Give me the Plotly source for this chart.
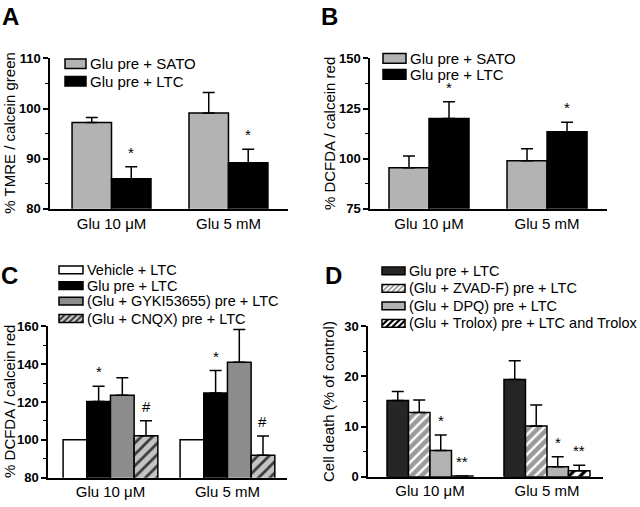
import plotly.graph_objects as go

W, H = 640, 507
FONT = "Liberation Sans, Arial, Helvetica, sans-serif"

# ---------------- data ----------------
categories = ["Glu 10 μM", "Glu 5 mM"]

# Panel A: % TMRE / calcein green
a_names = ["Glu pre + SATO", "Glu pre + LTC"]
a_sato = [97.2, 99.1]
a_sato_err = [1.0, 4.1]
a_ltc = [86.0, 89.2]
a_ltc_err = [2.4, 2.7]
a_sato_sig = ["", ""]
a_ltc_sig = ["*", "*"]
a_yticks = [80, 90, 100, 110]

# Panel B: % DCFDA / calcein red
b_names = ["Glu pre + SATO", "Glu pre + LTC"]
b_sato = [95.5, 99.0]
b_sato_err = [5.8, 6.0]
b_ltc = [120.0, 113.5]
b_ltc_err = [8.4, 4.7]
b_sato_sig = ["", ""]
b_ltc_sig = ["*", "*"]
b_yticks = [75, 100, 125, 150]

# Panel C: % DCFDA / calcein red
c_names = ["Vehicle + LTC", "Glu pre + LTC", "(Glu + GYKI53655) pre + LTC", "(Glu + CNQX) pre + LTC"]
c_vehicle = [100.0, 100.0]
c_vehicle_err = [0.0, 0.0]
c_glu = [120.3, 124.7]
c_glu_err = [8.0, 11.9]
c_gyki = [123.6, 141.0]
c_gyki_err = [9.2, 17.3]
c_cnqx = [102.2, 91.8]
c_cnqx_err = [7.9, 10.2]
c_vehicle_sig = ["", ""]
c_glu_sig = ["*", "*"]
c_gyki_sig = ["", ""]
c_cnqx_sig = ["#", "#"]
c_yticks = [80, 100, 120, 140, 160]

# Panel D: Cell death (% of control)
d_names = ["Glu pre + LTC", "(Glu + ZVAD-F) pre + LTC", "(Glu + DPQ) pre + LTC",
           "(Glu + Trolox) pre + LTC and Trolox"]
d_glu = [15.2, 19.4]
d_glu_err = [1.8, 3.7]
d_zvad = [12.8, 10.1]
d_zvad_err = [2.5, 4.2]
d_dpq = [5.2, 2.0]
d_dpq_err = [3.1, 2.0]
d_trolox = [0.15, 1.2]
d_trolox_err = [0.0, 1.1]
d_glu_sig = ["", ""]
d_zvad_sig = ["", ""]
d_dpq_sig = ["*", "*"]
d_trolox_sig = ["**", "**"]
d_yticks = [0, 10, 20, 30]

# ---------------- styles ----------------
styles = {
    "lightgray": dict(color="#b3b3b3", pattern=None),
    "black": dict(color="#000000", pattern=None),
    "white": dict(color="#ffffff", pattern=None),
    "midgray": dict(color="#8c8c8c", pattern=None),
    "darkgray": dict(color="#262626", pattern=None),
    "cnqx": dict(color="#c4c4c4", pattern=dict(shape="/", bgcolor="#c4c4c4", fgcolor="#3a3a3a",
                                                size=8, solidity=0.35, fillmode="replace"),
                 hatch=("#c4c4c4", "#3a3a3a", 2.0, 6)),
    "zvad": dict(color="#9a9a9a", pattern=dict(shape="/", bgcolor="#9a9a9a", fgcolor="#ffffff",
                                                size=7, solidity=0.35, fillmode="replace"),
                 hatch=("#9a9a9a", "#ffffff", 1.8, 5)),
    "trolox": dict(color="#ffffff", pattern=dict(shape="/", bgcolor="#ffffff", fgcolor="#000000",
                                                  size=8, solidity=0.4, fillmode="replace"),
                   hatch=("#ffffff", "#000000", 2.2, 6)),
}

# panel geometry in pixels: (x0, x1, ytop, ybottom), x range, group width, y range
panels = {
    "A": dict(px=(50, 288, 53, 208), xr=[-0.526, 1.509], gw=0.675, yr=[80, 110], yt=a_yticks,
              minor=5, title="% TMRE / calcein green", title_xy=(10, 130.5), letter_xy=(10, 10),
              series=[(a_names[0], a_sato, a_sato_err, a_sato_sig, "lightgray"),
                      (a_names[1], a_ltc, a_ltc_err, a_ltc_sig, "black")],
              leg=dict(box=(65, 86), rows=[58.5, 76.5], h=10, tx=88, fs=15)),
    "B": dict(px=(370, 607, 53, 208), xr=[-0.5, 1.508], gw=0.678, yr=[75, 150], yt=b_yticks,
              minor=12.5, title="% DCFDA / calcein red", title_xy=(329, 131), letter_xy=(329, 10),
              series=[(b_names[0], b_sato, b_sato_err, b_sato_sig, "lightgray"),
                      (b_names[1], b_ltc, b_ltc_err, b_ltc_sig, "black")],
              leg=dict(box=(383, 406), rows=[53, 69.5], h=10, tx=408, fs=15)),
    "C": dict(px=(48, 287, 329, 485), xr=[-0.534, 1.509], gw=0.81, yr=[80, 160], yt=c_yticks,
              minor=10, title="% DCFDA / calcein red", title_xy=(10, 407), letter_xy=(9, 277),
              series=[(c_names[0], c_vehicle, c_vehicle_err, c_vehicle_sig, "white"),
                      (c_names[1], c_glu, c_glu_err, c_glu_sig, "black"),
                      (c_names[2], c_gyki, c_gyki_err, c_gyki_sig, "midgray"),
                      (c_names[3], c_cnqx, c_cnqx_err, c_cnqx_sig, "cnqx")],
              leg=dict(box=(59, 83), rows=[271, 287, 303, 321], h=8, tx=85, fs=14.5)),
    "D": dict(px=(368, 603, 329, 484), xr=[-0.53, 1.479], gw=0.735, yr=[0, 30], yt=d_yticks,
              minor=5, title="Cell death (% of control)", title_xy=(329, 407), letter_xy=(333, 277),
              series=[(d_names[0], d_glu, d_glu_err, d_glu_sig, "darkgray"),
                      (d_names[1], d_zvad, d_zvad_err, d_zvad_sig, "zvad"),
                      (d_names[2], d_dpq, d_dpq_err, d_dpq_sig, "lightgray"),
                      (d_names[3], d_trolox, d_trolox_err, d_trolox_sig, "trolox")],
              leg=dict(box=(382, 405), rows=[272, 290, 308, 326], h=8, tx=407, fs=14.5)),
}


def pxx(x):
    return x / W


def pxy(y):
    return 1 - y / H


fig = go.Figure()
shapes = []
annotations = []

for k, (key, p) in enumerate(panels.items()):
    sfx = "" if k == 0 else str(k + 1)
    xa, ya = "x" + sfx, "y" + sfx
    x0, x1, yt, yb = p["px"]
    n = len(p["series"])
    bw = p["gw"] / n
    for i, (name, vals, errs, sigs, sty) in enumerate(p["series"]):
        st = styles[sty]
        marker = dict(color=st["color"], line=dict(color="black", width=1.5))
        if st["pattern"]:
            marker["pattern"] = st["pattern"]
        has_err = any(e > 0 for e in errs)
        off = -p["gw"] / 2 + i * bw
        fig.add_trace(go.Bar(
            x=categories, y=vals, name=name, xaxis=xa, yaxis=ya,
            width=bw, offset=off, marker=marker, showlegend=False,
            error_y=dict(type="data", symmetric=False, array=errs, arrayminus=[0] * len(errs),
                         color="black", thickness=1.5, width=6, visible=has_err),
        ))
        for j, s in enumerate(sigs):
            if s:
                annotations.append(dict(
                    x=j + off + bw / 2, y=vals[j] + errs[j], xref=xa, yref=ya,
                    text=s, showarrow=False, yanchor="bottom", xanchor="center",
                    font=dict(family=FONT, size=15, color="black"), yshift=4))
        # legend swatch
        lg = p["leg"]
        bx0, bx1 = lg["box"]
        cy = lg["rows"][i]
        by0, by1 = cy - lg["h"] / 2, cy + lg["h"] / 2
        shapes.append(dict(type="rect", xref="paper", yref="paper",
                           x0=pxx(bx0), x1=pxx(bx1), y0=pxy(by1), y1=pxy(by0),
                           fillcolor=st["color"], line=dict(width=0), layer="above"))
        if "hatch" in st:
            _, fg, lw, sp = st["hatch"]
            h = by1 - by0
            kx = bx0 - h
            while kx < bx1:
                tlo = max(0, bx0 - kx)
                thi = min(h, bx1 - kx)
                if thi > tlo:
                    shapes.append(dict(type="line", xref="paper", yref="paper",
                                       x0=pxx(kx + tlo), y0=pxy(by1 - tlo),
                                       x1=pxx(kx + thi), y1=pxy(by1 - thi),
                                       line=dict(color=fg, width=lw), layer="above"))
                kx += sp
        shapes.append(dict(type="rect", xref="paper", yref="paper",
                           x0=pxx(bx0), x1=pxx(bx1), y0=pxy(by1), y1=pxy(by0),
                           fillcolor="rgba(0,0,0,0)", line=dict(color="black", width=1.5),
                           layer="above"))
        annotations.append(dict(x=pxx(lg["tx"]), y=pxy(cy), xref="paper", yref="paper",
                                text=name, showarrow=False, xanchor="left", yanchor="middle",
                                font=dict(family=FONT, size=lg["fs"], color="black")))

    fig.update_layout({
        "xaxis" + sfx: dict(domain=[pxx(x0), pxx(x1)], anchor=ya, range=p["xr"], type="category",
                            showline=True, linecolor="black", linewidth=1.5, ticks="",
                            showgrid=False, zeroline=False,
                            tickfont=dict(family=FONT, size=15, color="black")),
        "yaxis" + sfx: dict(domain=[pxy(yb), pxy(yt)], anchor=xa, range=p["yr"],
                            tickvals=p["yt"], showline=True, linecolor="black", linewidth=1.5,
                            ticks="outside", ticklen=5, tickwidth=1.5, tickcolor="black",
                            showgrid=False, zeroline=False,
                            minor=dict(ticks="outside", ticklen=3, tickwidth=1.2,
                                       tickcolor="black", dtick=p["minor"], tick0=p["yr"][0],
                                       showgrid=False),
                            tickfont=dict(family=FONT, size=13, color="black", weight="bold")),
    })
    tx, ty = p["title_xy"]
    annotations.append(dict(x=pxx(tx), y=pxy(ty), xref="paper", yref="paper", text=p["title"],
                            showarrow=False, textangle=-90, xanchor="center", yanchor="middle",
                            font=dict(family=FONT, size=15, color="black")))
    lx, ly = p["letter_xy"]
    annotations.append(dict(x=pxx(lx), y=pxy(ly), xref="paper", yref="paper", text="<b>" + key + "</b>",
                            showarrow=False, xanchor="center", yanchor="middle",
                            font=dict(family=FONT, size=24, color="black")))

fig.update_layout(
    width=W, height=H, margin=dict(l=0, r=0, t=0, b=0),
    paper_bgcolor="white", plot_bgcolor="white",
    barmode="overlay", showlegend=False,
    shapes=shapes, annotations=annotations,
    font=dict(family=FONT, color="black"),
)

fig.write_html("out.html", config={"displayModeBar": False},
               post_script="document.body.style.margin='0px';")
